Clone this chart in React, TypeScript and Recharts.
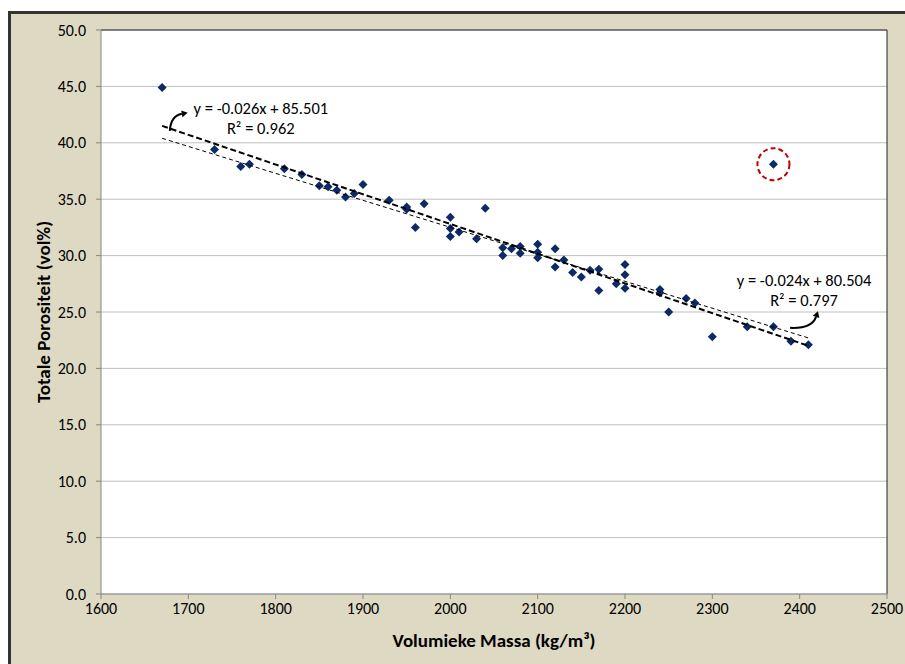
import {
  ScatterChart,
  Scatter,
  XAxis,
  YAxis,
  CartesianGrid,
  ReferenceLine,
  ReferenceDot,
} from "recharts";

const FONT = "Carlito, Calibri, Lato, 'Noto Sans', sans-serif";

// Volumieke massa (kg/m³) and totale porositeit (vol%)
const massa = [
  1670, 1730, 1760, 1770, 1810, 1830, 1850, 1860, 1870, 1880, 1890, 1900,
  1930, 1950, 1950, 1960, 1970, 2000, 2000, 2000, 2010, 2030, 2040, 2060,
  2060, 2070, 2080, 2080, 2100, 2100, 2100, 2120, 2120, 2130, 2140, 2150,
  2160, 2170, 2170, 2190, 2200, 2200, 2200, 2240, 2240, 2250, 2270, 2280,
  2300, 2340, 2370, 2390, 2410, 2370,
];
const porositeit = [
  44.9, 39.4, 37.9, 38.1, 37.7, 37.2, 36.2, 36.1, 35.8, 35.2, 35.5, 36.3,
  34.9, 34.3, 34.1, 32.5, 34.6, 33.4, 32.4, 31.7, 32.1, 31.5, 34.2, 30.7,
  30.0, 30.6, 30.8, 30.2, 31.0, 30.3, 29.8, 30.6, 29.0, 29.6, 28.5, 28.1,
  28.7, 28.8, 26.9, 27.5, 29.2, 28.3, 27.1, 27.0, 26.7, 25.0, 26.2, 25.8,
  22.8, 23.7, 23.7, 22.4, 22.1, 38.1,
];

// trendline end points
const trendZonderUitschieter = [
  { x: 1670, y: 41.5 },
  { x: 2410, y: 22.0 },
];
const trendMetUitschieter = [
  { x: 1670, y: 40.4 },
  { x: 2410, y: 22.7 },
];

const uitschieter = { x: 2370, y: 38.1 };

const xTicks = [1600, 1700, 1800, 1900, 2000, 2100, 2200, 2300, 2400, 2500];
const yTicks = [0, 5, 10, 15, 20, 25, 30, 35, 40, 45, 50];

const vergelijking1 = ["y = -0.026x + 85.501", "R² = 0.962"];
const vergelijking2 = ["y = -0.024x + 80.504", "R² = 0.797"];

const punten = massa.map((m, i) => ({ x: m, y: porositeit[i] }));

const Diamond = (props: any) => {
  const { cx, cy } = props;
  if (cx == null || cy == null) return <g />;
  const r = 4.5;
  return (
    <path
      d={`M${cx},${cy - r}L${cx + r},${cy}L${cx},${cy + r}L${cx - r},${cy}Z`}
      fill="#0B2A66"
    />
  );
};

const NoShape = () => <g />;

const XTick = (props: any) => (
  <text
    x={props.x}
    y={props.y}
    dy="0.8em"
    textAnchor="middle"
    fontFamily={FONT}
    fontSize={16}
    fill="#000"
  >
    {props.payload.value}
  </text>
);

const YTick = (props: any) => (
  <text
    x={props.x}
    y={props.y}
    textAnchor="end"
    dominantBaseline="central"
    fontFamily={FONT}
    fontSize={16}
    fill="#000"
  >
    {Number(props.payload.value).toFixed(1)}
  </text>
);

function arrowHead(ex: number, ey: number, dx: number, dy: number) {
  const len = Math.hypot(dx, dy);
  const ux = dx / len;
  const uy = dy / len;
  const tipX = ex + ux * 6;
  const tipY = ey + uy * 6;
  const px = -uy * 3.5;
  const py = ux * 3.5;
  return `M${tipX},${tipY}L${ex + px},${ey + py}L${ex - px},${ey - py}Z`;
}

// label with a curved arrow, arrow given relative to the text centre
function makeNote(lines: string[], arrow: number[]) {
  return (props: any) => {
    const { cx, cy } = props;
    if (cx == null || cy == null) return <g />;
    const [sx, sy, qx, qy, ex, ey] = arrow;
    return (
      <g>
        <text
          x={cx}
          y={cy}
          textAnchor="middle"
          dominantBaseline="central"
          fontFamily={FONT}
          fontSize={16.5}
          fill="#000"
        >
          {lines[0]}
        </text>
        <text
          x={cx}
          y={cy + 20}
          textAnchor="middle"
          dominantBaseline="central"
          fontFamily={FONT}
          fontSize={16.5}
          fill="#000"
        >
          {lines[1]}
        </text>
        <path
          d={`M${cx + sx},${cy + sy}Q${cx + qx},${cy + qy} ${cx + ex},${cy + ey}`}
          fill="none"
          stroke="#000"
          strokeWidth={2}
        />
        <path d={arrowHead(cx + ex, cy + ey, ex - qx, ey - qy)} fill="#000" />
      </g>
    );
  };
}

const note1 = makeNote(vergelijking1, [-91, 23, -90, 8, -79, 6]);
const note2 = makeNote(vergelijking2, [-14, 48, 8, 49, 12, 37]);

const OutlierRing = (props: any) => {
  const { cx, cy } = props;
  if (cx == null || cy == null) return <g />;
  return (
    <circle
      cx={cx}
      cy={cy}
      r={16}
      fill="none"
      stroke="#C00000"
      strokeWidth={2}
      strokeDasharray="5 3"
    />
  );
};

export default function App() {
  return (
    <div
      style={{
        position: "absolute",
        left: 0,
        top: 0,
        width: 905,
        height: 664,
        overflow: "hidden",
        background: "#fff",
      }}
    >
      <div
        style={{
          position: "absolute",
          left: 8,
          top: 11,
          width: 920,
          height: 680,
          background: "#DDD9C3",
          borderLeft: "3px solid #333",
          borderTop: "3px solid #333",
          boxSizing: "border-box",
        }}
      />
      <div style={{ position: "absolute", left: 0, top: 0 }}>
        <ScatterChart
          width={905}
          height={664}
          margin={{ top: 30, right: 18, bottom: 30, left: 40 }}
        >
          <CartesianGrid
            vertical={false}
            stroke="#BFBFBF"
            fill="#fff"
            fillOpacity={1}
          />
          <XAxis
            type="number"
            dataKey="x"
            domain={[1600, 2500]}
            ticks={xTicks}
            interval={0}
            height={40}
            stroke="#868686"
            tickSize={5}
            tickMargin={2}
            tick={XTick}
            label={{
              content: (p: any) => {
                const vb = p.viewBox || {};
                return (
                  <text
                    x={vb.x + vb.width / 2}
                    y={vb.y + 46}
                    textAnchor="middle"
                    dominantBaseline="central"
                    fontFamily={FONT}
                    fontSize={19}
                    fontWeight="bold"
                    fill="#000"
                  >
                    Volumieke Massa (kg/m³)
                  </text>
                );
              },
            }}
          />
          <YAxis
            type="number"
            dataKey="y"
            domain={[0, 50]}
            ticks={yTicks}
            interval={0}
            width={61}
            stroke="#868686"
            tickSize={5}
            tickMargin={10}
            tick={YTick}
            label={{
              content: (p: any) => {
                const vb = p.viewBox || {};
                const lx = vb.x + 3;
                const ly = vb.y + vb.height / 2;
                return (
                  <text
                    x={lx}
                    y={ly}
                    transform={`rotate(-90 ${lx} ${ly})`}
                    textAnchor="middle"
                    dominantBaseline="central"
                    fontFamily={FONT}
                    fontSize={19}
                    fontWeight="bold"
                    fill="#000"
                  >
                    Totale Porositeit (vol%)
                  </text>
                );
              },
            }}
          />
          <ReferenceLine y={50} stroke="#222" strokeWidth={1} />
          <ReferenceLine x={2500} stroke="#222" strokeWidth={1} />
          <Scatter
            data={punten}
            shape={Diamond}
            isAnimationActive={false}
          />
          <Scatter
            data={trendMetUitschieter}
            shape={NoShape}
            line={{ stroke: "#000", strokeWidth: 1, strokeDasharray: "4 3" }}
            isAnimationActive={false}
          />
          <Scatter
            data={trendZonderUitschieter}
            shape={NoShape}
            line={{ stroke: "#000", strokeWidth: 2, strokeDasharray: "6 3" }}
            isAnimationActive={false}
          />
          <ReferenceDot
            x={uitschieter.x}
            y={uitschieter.y}
            shape={OutlierRing}
          />
          <ReferenceDot x={1783} y={43.1} shape={note1} />
          <ReferenceDot x={2405} y={27.85} shape={note2} />
        </ScatterChart>
      </div>
    </div>
  );
}
